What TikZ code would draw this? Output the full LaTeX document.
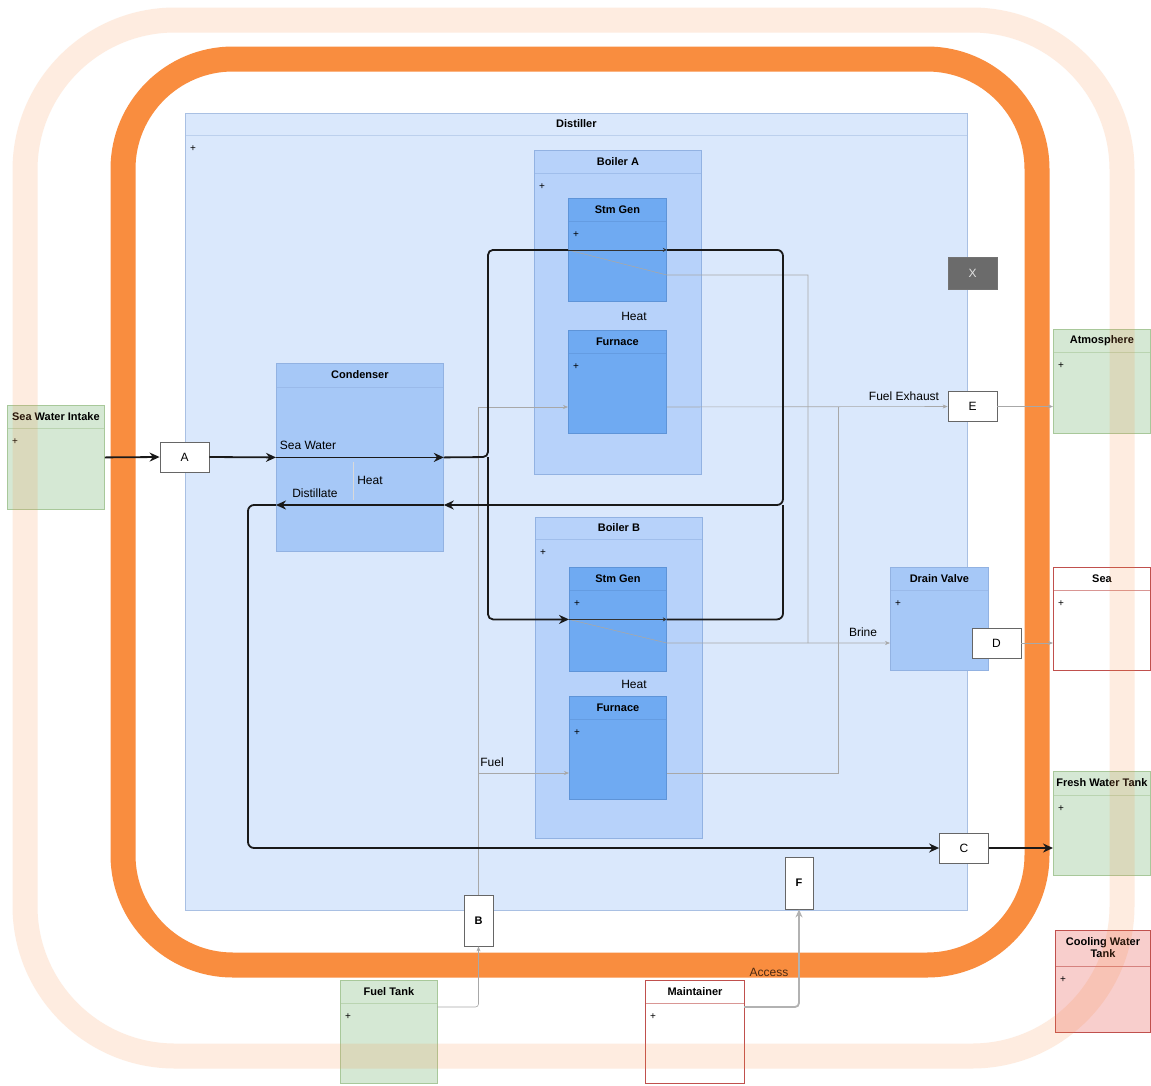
\documentclass[tikz,border=0pt]{standalone}
\usepackage{fontspec}
\setmainfont{Liberation Sans}
\usetikzlibrary{arrows.meta}

\definecolor{bandorange}{HTML}{F98D3F}
\definecolor{distfill}{HTML}{DAE8FC}
\definecolor{distline}{HTML}{A9C0E3}
\definecolor{boilfill}{HTML}{B7D2FA}
\definecolor{boilline}{HTML}{92B2E2}
\definecolor{partfill}{HTML}{6FAAF2}
\definecolor{partline}{HTML}{5E94D8}
\definecolor{unitfill}{HTML}{A6C8F7}
\definecolor{greenfill}{HTML}{D5E8D4}
\definecolor{greenline}{HTML}{A8C89A}
\definecolor{redfill}{HTML}{F8CECC}
\definecolor{redline}{HTML}{C0504D}
\definecolor{wiregray}{HTML}{A8A8A8}

% class box: name, style, x, y, width, height, header, title, plus
\newcommand{\umlbox}[9]{%
  \node[#2, anchor=north west, minimum width=#5pt, minimum height=#6pt] (#1) at (#3,#4) {};
  \draw[#2, fill=none, draw opacity=0.6] ([yshift=-#7pt]#1.north west) -- ([yshift=-#7pt]#1.north east);
  \node[boxtitle] (#1-t) at ([yshift=-0.5*#7pt]#1.north) {#8};
  \node[plusmark] (#1-p) at ([xshift=5pt, yshift=-#7pt-14pt]#1.north west) {#9};
}

\tikzset{
  boxtitle/.style={font=\fontsize{11}{12}\selectfont\bfseries, align=center, inner sep=0pt},
  plusmark/.style={font=\fontsize{10}{10}\selectfont, anchor=west, inner sep=0pt},
  lbl/.style={font=\fontsize{12}{13}\selectfont, inner sep=1pt},
  distiller/.style={rectangle, draw=distline, fill=distfill, line width=0.8pt},
  boiler/.style={rectangle, draw=boilline, fill=boilfill, line width=0.8pt},
  part/.style={rectangle, draw=partline, fill=partfill, line width=0.8pt},
  unit/.style={rectangle, draw=boilline, fill=unitfill, line width=0.8pt},
  ext/.style={rectangle, draw=greenline, fill=greenfill, line width=0.8pt},
  extwhite/.style={rectangle, draw=redline, fill=white, line width=1pt},
  extred/.style={rectangle, draw=redline, fill=redfill, line width=1pt},
  port/.style={rectangle, draw=black!60, fill=white, line width=0.8pt, font=\fontsize{12}{13}\selectfont}
}

\begin{document}
\begin{tikzpicture}[x=1pt, y=-1pt,
    flow/.style={draw=black!90, line width=1.8pt, -{Stealth[length=10pt, width=9pt]}},
    flowline/.style={draw=black!90, line width=1.8pt},
    tiny/.style={draw=black!80, line width=0.8pt, -{Stealth[length=4pt, width=4pt]}},
    wire/.style={draw=wiregray, line width=0.6pt},
    wirearrow/.style={draw=wiregray, line width=0.6pt, -{Stealth[length=5pt, width=4pt]}},
    access/.style={draw=black!30, line width=1.8pt, -{Stealth[length=8pt, width=7pt]}, rounded corners=4}]

\useasboundingbox[fill=white] (0,0) rectangle (1151,1085);

% boundaries
\draw[bandorange, line width=25pt, rounded corners=110] (123,59) rectangle (1037,965);

% boxes
\umlbox{distiller}{distiller}{185}{113}{782}{797}{22}{Distiller}{+}
\umlbox{boilerA}{boiler}{534}{150}{167}{324}{23}{Boiler A}{+}
\umlbox{sgA}{part}{568}{198}{98}{103}{23}{Stm Gen}{+}
\umlbox{furA}{part}{568}{330}{98}{103}{23}{Furnace}{+}
\umlbox{boilerB}{boiler}{535}{517}{167}{321}{22}{Boiler B}{+}
\umlbox{sgB}{part}{569}{567}{97}{104}{23}{Stm Gen}{+}
\umlbox{furB}{part}{569}{696}{97}{103}{23}{Furnace}{+}
\umlbox{cond}{unit}{276}{363}{167}{188}{24}{Condenser}{}
\umlbox{drain}{unit}{890}{567}{98}{103}{23}{Drain Valve}{+}
\umlbox{intake}{ext}{7}{405}{97}{104}{23}{Sea Water Intake}{+}
\umlbox{atm}{ext}{1053}{329}{97}{104}{23}{Atmosphere}{+}
\umlbox{sea}{extwhite}{1053}{567}{97}{103}{23}{Sea}{+}
\umlbox{fresh}{ext}{1053}{771}{97}{104}{24}{Fresh Water Tank}{+}
\umlbox{cooling}{extred}{1055}{930}{95}{102}{36}{Cooling Water\\Tank}{+}
\umlbox{fueltank}{ext}{340}{980}{97}{103}{23}{Fuel Tank}{+}
\umlbox{maint}{extwhite}{645}{980}{99}{103}{23}{Maintainer}{+}

% ports
\node[port, minimum width=49pt, minimum height=30pt] (a) at (184.5,457) {A};
\node[port, minimum width=49pt, minimum height=30pt] (c) at (964,848) {C};
\node[port, minimum width=49pt, minimum height=30pt] (d) at (996.5,643) {D};
\node[port, minimum width=49pt, minimum height=30pt] (e) at (972.5,406.5) {E};
\node[port, minimum width=29pt, minimum height=51pt, font=\fontsize{11}{12}\selectfont\bfseries] (b) at (478.5,920.5) {B};
\node[port, minimum width=28pt, minimum height=52pt, font=\fontsize{11}{12}\selectfont\bfseries] (f) at (799,883) {F};
\node[rectangle, draw=black!55, fill=black!58, text=black!12, minimum width=49pt, minimum height=32pt, font=\fontsize{12}{13}\selectfont] (x) at (972.5,273) {X};

\coordinate (split) at (488,457);
\coordinate (ret) at (783,505);
\coordinate (dl) at (248,848);
\coordinate (fuelup) at (479,407);
\coordinate (fuelB) at (479,773);
\coordinate (exh) at (838,407);
\coordinate (brA) at (808,275);
\coordinate (ft) at (437,1007);
\coordinate (mt) at (744,1007);

% fuel, exhaust and brine
\draw[wire] (b.north) -- (b.north |- fuelup);
\draw[wirearrow] (fuelup) -- (furA.west |- fuelup);
\draw[wirearrow] (fuelB) -- (furB.west |- fuelB);
\draw[wirearrow] (furA.east |- fuelup) -- (e.west);
\draw[wire] (furB.east |- fuelB) -| (exh);
\draw[wirearrow] (e.east) -- (atm.west |- e.east);
\draw[wire] (sgA.west) -- (sgA.east |- brA) -- (brA) -- (brA |- d.west);
\draw[wirearrow] (sgB.west) -- (sgB.east |- d.west) -- (drain.west |- d.west);
\draw[wirearrow] (d.east) -- (sea.west |- d.east);
\draw[wirearrow, rounded corners=3] (ft) -| (b.south);
\draw[access] (mt) -| (f.south);
\draw[draw=black!15, line width=0.6pt] (353,462) -- (353,500);

% water and distillate
\draw[flow] (intake.east) -- (a.west);
\draw[flow] (a.east) -- (cond.west);
\draw[flow] (cond.west) -- (cond.east);
\draw[flowline, rounded corners=5] (cond.east) -- (split) |- (sgA.west);
\draw[flow, rounded corners=5] (split) |- (sgB.west);
\draw[tiny] (sgA.west) -- (sgA.east);
\draw[tiny] (sgB.west) -- (sgB.east);
\draw[flow, rounded corners=6] (sgA.east) -| (ret) -- (cond.east |- ret);
\draw[flowline, rounded corners=6] (sgB.east) -| (ret);
\draw[flow] (cond.east |- ret) -- (cond.west |- ret);
\draw[flow, rounded corners=6] (cond.west |- ret) -| (dl) -- (c.west);
\draw[flow] (c.east) -- (fresh.west |- c.east);

% labels
\node[lbl] (lsea) at (308,445) {Sea Water};
\node[lbl] (lheat) at (370,480) {Heat};
\node[lbl] (ldist) at (315,493) {Distillate};
\node[lbl] (lheatA) at (634,316) {Heat};
\node[lbl] (lheatB) at (634,684) {Heat};
\node[lbl] (lfuel) at (492,762) {Fuel};
\node[lbl] (lexh) at (904,396) {Fuel Exhaust};
\node[lbl] (lbrine) at (863,632) {Brine};
\node[lbl, text=black!70!bandorange] (lacc) at (769,972) {Access};

% outer boundary
\draw[bandorange, opacity=0.16, line width=25pt, rounded corners=150] (25,20) rectangle (1122,1056);
\end{tikzpicture}
\end{document}
